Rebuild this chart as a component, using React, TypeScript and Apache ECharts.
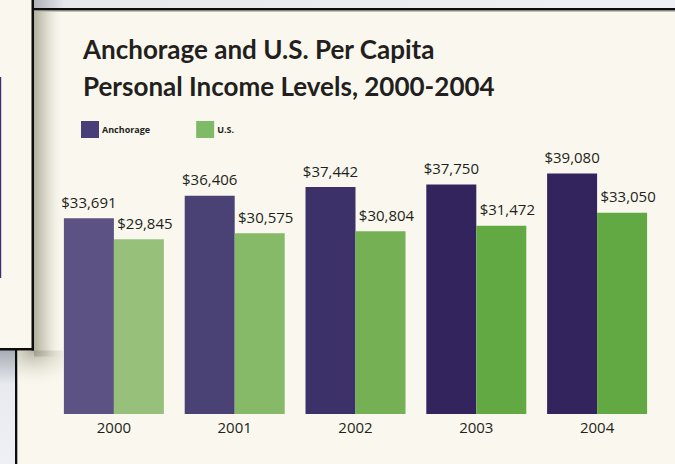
import React, { useEffect, useRef } from "react";
import * as echarts from "echarts";

const years = ["2000", "2001", "2002", "2003", "2004"];
const anchorage = [33691, 36406, 37442, 37750, 39080];
const us = [29845, 30575, 30804, 31472, 33050];
const seriesNames = ["Anchorage", "U.S."];
const titleLines = ["Anchorage and U.S. Per Capita", "Personal Income Levels, 2000-2004"];

// styles (kept apart from data)
const anchorageShades = ["#5c5283", "#4a4274", "#3c3169", "#33245e", "#33245e"];
const usShades = ["#97c17a", "#86ba69", "#75b154", "#62a843", "#62a843"];
const legendColors = ["#483f78", "#7fbb66"];
const cream = "#faf8ee";
const ink = "#231f20";

export default function App() {
  const ref = useRef<HTMLDivElement>(null);
  useEffect(() => {
    if (!ref.current) return;
    const chart = echarts.init(ref.current, null, { renderer: "svg" });
    const money = (v: number) => "$" + v.toLocaleString("en-US");
    const labelStyle = {
      show: true,
      position: "top",
      distance: 9,
      formatter: (p: any) => money(p.value),
      fontFamily: "Open Sans, sans-serif",
      fontSize: 15,
      color: ink,
    };
    chart.setOption({
      animation: false,
      backgroundColor: cream,
      title: {
        text: titleLines.join("\n"),
        left: 83,
        top: 30,
        padding: 0,
        textStyle: {
          fontFamily: "Lato, sans-serif",
          fontWeight: "bold",
          fontSize: 26,
          lineHeight: 37,
          color: ink,
        },
      },
      legend: {
        left: 81,
        top: 121,
        padding: 0,
        itemWidth: 18,
        itemHeight: 17,
        itemGap: 46,
        icon: "rect",
        data: seriesNames,
        textStyle: {
          fontFamily: "Open Sans, sans-serif",
          fontWeight: "bold",
          fontSize: 9,
          color: ink,
          padding: [0, 0, 0, -2],
        },
      },
      grid: { left: 53.5, right: 17.5, top: 165, bottom: 50 },
      xAxis: {
        type: "category",
        data: years,
        axisLine: { show: false },
        axisTick: { show: false },
        axisLabel: {
          fontFamily: "Open Sans, sans-serif",
          fontSize: 15,
          color: ink,
          margin: 5,
        },
      },
      yAxis: [
        { type: "value", min: 10100, max: 40100, show: false, splitLine: { show: false } },
        { type: "value", min: 8800, max: 38800, show: false, splitLine: { show: false } },
      ],
      series: [
        {
          name: seriesNames[0],
          type: "bar",
          yAxisIndex: 0,
          barWidth: 50,
          barGap: "0%",
          itemStyle: { color: legendColors[0] },
          data: anchorage.map((v, i) => ({ value: v, itemStyle: { color: anchorageShades[i] } })),
          label: labelStyle,
        },
        {
          name: seriesNames[1],
          type: "bar",
          yAxisIndex: 1,
          barWidth: 50,
          barGap: "0%",
          itemStyle: { color: legendColors[1] },
          data: us.map((v, i) => ({ value: v, itemStyle: { color: usShades[i] } })),
          label: { ...labelStyle, offset: [6, 0] },
        },
      ],
      graphic: [
        {
          type: "rect",
          z: -10,
          shape: { x: 33, y: 0, width: 642, height: 8.5 },
          style: {
            fill: new echarts.graphic.LinearGradient(0, 0, 1, 0, [
              { offset: 0, color: "#aeb1b6" },
              { offset: 0.05, color: "#e6e8ee" },
              { offset: 1, color: "#eef0f5" },
            ]),
          },
        },
        { type: "rect", z: -9, shape: { x: 33, y: 8, width: 642, height: 2.5 }, style: { fill: "#0d0d0d" } },
        { type: "rect", z: -9, shape: { x: 33, y: 10.5, width: 642, height: 1 }, style: { fill: "#8a8a80" } },
        {
          type: "rect",
          z: -10,
          shape: { x: 0, y: 350, width: 15.5, height: 114 },
          style: {
            fill: new echarts.graphic.LinearGradient(0, 0, 0, 1, [
              { offset: 0, color: "#a7abb3" },
              { offset: 0.3, color: "#e8eaf0" },
              { offset: 1, color: "#eef0f5" },
            ]),
          },
        },
        { type: "rect", z: -9, shape: { x: 15, y: 345, width: 2.3, height: 119 }, style: { fill: "#0d0d0d" } },
        {
          type: "rect",
          z: -8,
          shape: { x: 34, y: 11.5, width: 30, height: 345 },
          style: {
            fill: new echarts.graphic.LinearGradient(0, 0, 1, 0, [
              { offset: 0, color: "rgba(150,150,130,0.75)" },
              { offset: 0.4, color: "rgba(175,175,155,0.45)" },
              { offset: 1, color: "rgba(250,248,238,0)" },
            ]),
          },
        },
        {
          type: "rect",
          z: -8,
          shape: { x: 17.3, y: 350.5, width: 46, height: 34 },
          style: {
            fill: new echarts.graphic.RadialGradient(0.35, 0, 1.1, [
              { offset: 0, color: "rgba(150,150,130,0.7)" },
              { offset: 0.6, color: "rgba(200,200,185,0.25)" },
              { offset: 1, color: "rgba(250,248,238,0)" },
            ]),
          },
        },
        { type: "rect", z: -5, shape: { x: 0, y: 0, width: 32, height: 348.5 }, style: { fill: cream } },
        { type: "rect", z: -4, shape: { x: 31.5, y: 0, width: 2.5, height: 350.5 }, style: { fill: "#0d0d0d" } },
        { type: "rect", z: -4, shape: { x: 0, y: 348, width: 34, height: 2.5 }, style: { fill: "#0d0d0d" } },
        { type: "rect", z: -4, shape: { x: 0, y: 77, width: 1.2, height: 201 }, style: { fill: "#3a2f70" } },
      ],
    });
    return () => chart.dispose();
  }, []);
  return (
    <div
      ref={ref}
      style={{ position: "fixed", left: 0, top: 0, width: 675, height: 464 }}
    />
  );
}
